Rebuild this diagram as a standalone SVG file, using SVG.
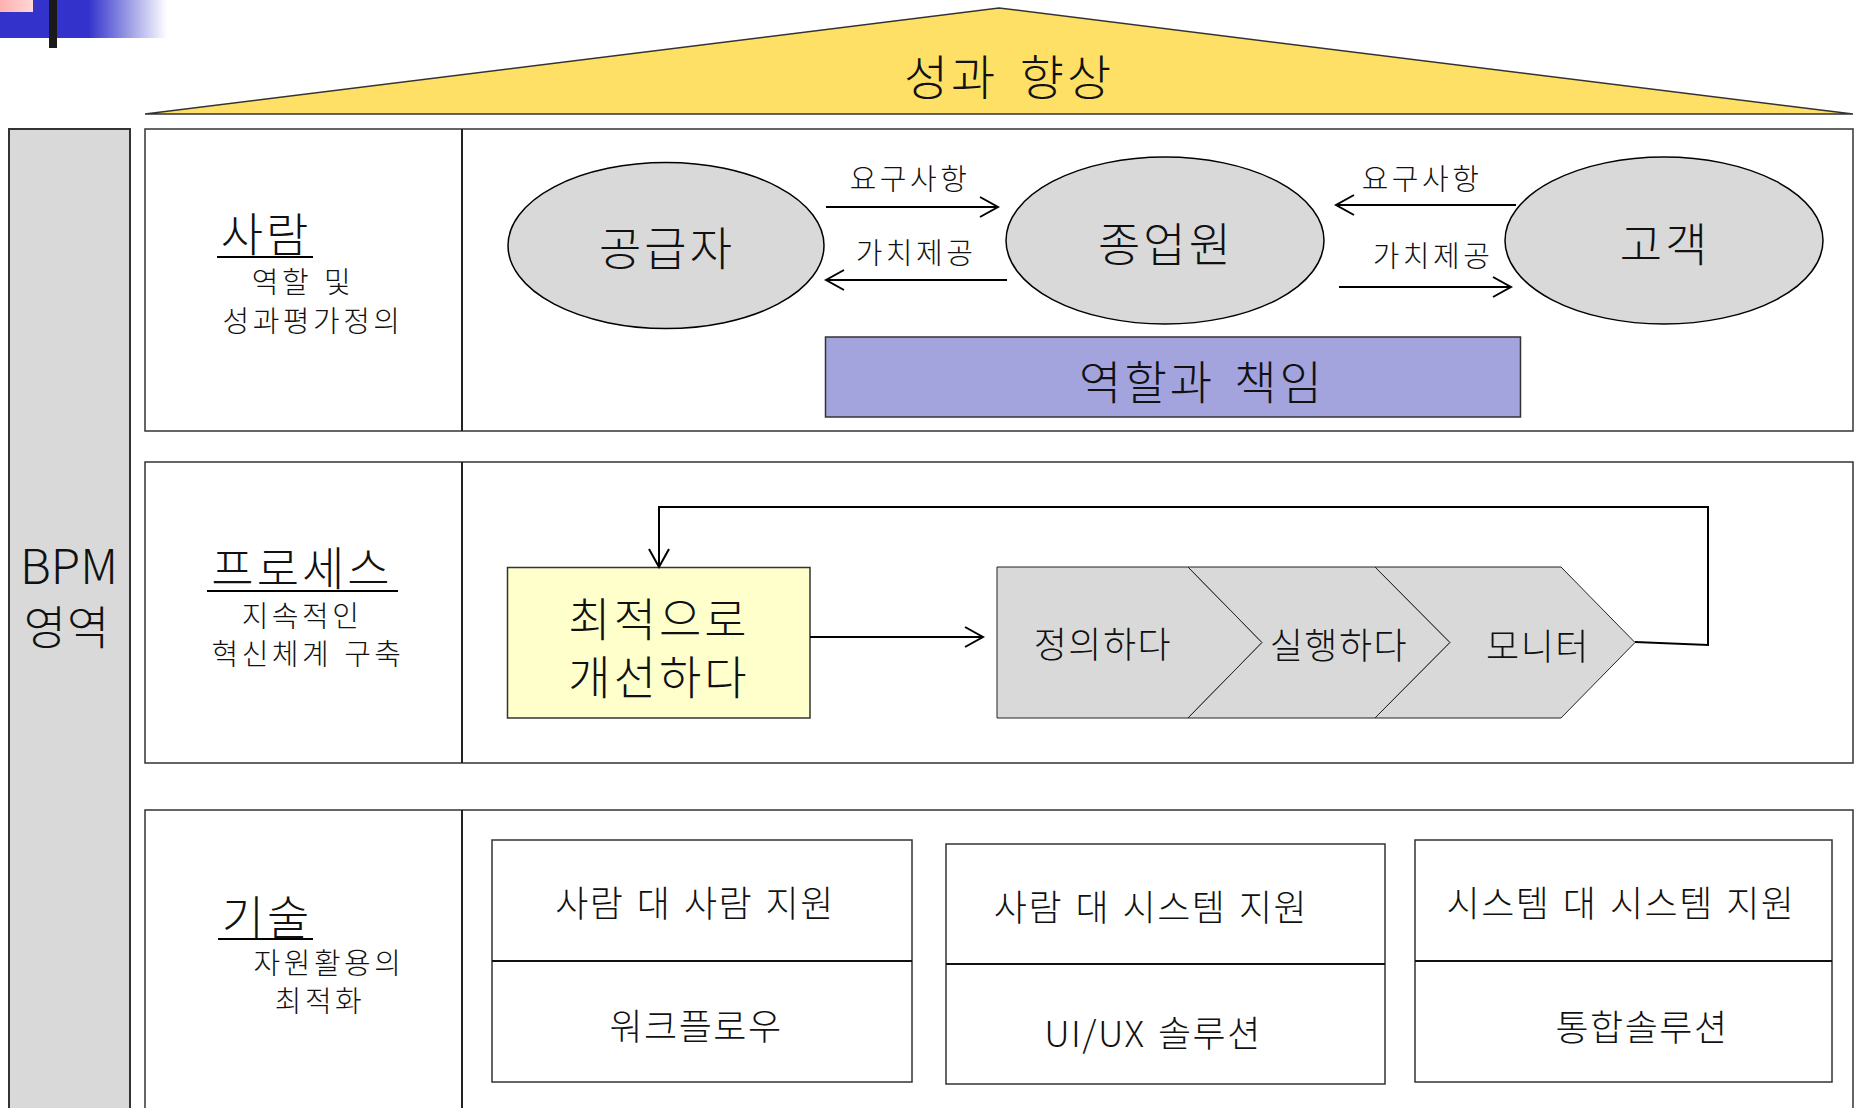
<svg xmlns="http://www.w3.org/2000/svg" width="1860" height="1108" viewBox="0 0 1860 1108">
<defs>
<linearGradient id="blueFade" x1="0" y1="0" x2="1" y2="0">
<stop offset="0" stop-color="#3333CC"/>
<stop offset="0.53" stop-color="#3333CC"/>
<stop offset="1" stop-color="#FFFFFF"/>
</linearGradient>
<linearGradient id="pinkFade" x1="0" y1="0" x2="1" y2="0">
<stop offset="0" stop-color="#FFB0B0"/>
<stop offset="1" stop-color="#FFD6D6"/>
</linearGradient>
<marker id="ah" viewBox="-20 -12 22 24" markerWidth="22" markerHeight="24" refX="0" refY="0" orient="auto" markerUnits="userSpaceOnUse">
<path d="M-18,-10 L0,0 L-18,10" fill="none" stroke="#000" stroke-width="2"/>
</marker>
</defs>
<style>
text{font-family:'Noto Sans CJK KR','Noto Sans',sans-serif;font-weight:300;fill:#111;text-anchor:middle}
.big{font-size:46px;letter-spacing:3px;word-spacing:6px}
.mid{font-size:36px;letter-spacing:1.5px;word-spacing:3px}
.sm{font-size:29px;letter-spacing:3.5px;word-spacing:2px}
.lbl{font-size:29px;letter-spacing:3.5px}
.box{fill:#FFFFFF;stroke:#333;stroke-width:1.5}
.ell{fill:#D9D9D9;stroke:#000;stroke-width:1.5}
.chev{fill:#D9D9D9;stroke:#222;stroke-width:1}
.arr{fill:none;stroke:#000;stroke-width:2;marker-end:url(#ah)}
.ul{stroke:#000;stroke-width:2}
</style>
<rect width="1860" height="1108" fill="#FFFFFF"/>

<g id="corner-decoration">
<rect x="0" y="0" width="167" height="38" fill="url(#blueFade)"/>
<rect x="0" y="0" width="33" height="12" fill="url(#pinkFade)"/>
<rect x="49" y="0" width="8" height="48" fill="#1A1A1A"/>
</g>

<g id="roof">
<polygon points="145,114 999,8 1853,114" fill="#FFE066" stroke="#333" stroke-width="1.5"/>
<text x="1009" y="95" style="font-size:48px;letter-spacing:3px;word-spacing:8px">성과 향상</text>
</g>

<g id="bpm-column">
<rect x="9" y="129" width="121" height="1000" fill="#D9D9D9" stroke="#333" stroke-width="2"/>
<text x="69" y="584" style="font-size:48px">BPM</text>
<text x="67" y="644" style="font-size:46px;letter-spacing:1px">영역</text>
</g>

<g id="row-people">
<rect class="box" x="145" y="129" width="1708" height="302"/>
<line x1="462" y1="129" x2="462" y2="431" stroke="#222" stroke-width="2"/>
<text class="big" x="266" y="251">사람</text>
<line class="ul" x1="217" y1="257" x2="313" y2="257"/>
<text class="sm" x="303" y="293">역할 및</text>
<text class="sm" x="313" y="332">성과평가정의</text>
</g>

<g id="supplier">
<ellipse class="ell" cx="666" cy="245.5" rx="158" ry="83"/>
<text class="big" x="667" y="265">공급자</text>
</g>
<g id="employee">
<ellipse class="ell" cx="1165" cy="240.5" rx="159" ry="83.5"/>
<text class="big" x="1166" y="261">종업원</text>
</g>
<g id="customer">
<ellipse class="ell" cx="1664" cy="240.5" rx="159" ry="83.5"/>
<text class="big" x="1665" y="261">고객</text>
</g>
<g id="roles">
<rect x="825.5" y="337" width="695" height="80" fill="#A3A3DE" stroke="#333" stroke-width="1.5"/>
<text class="big" x="1202" y="399">역할과 책임</text>
</g>

<g id="row-process">
<rect class="box" x="145" y="462" width="1708" height="301"/>
<line x1="462" y1="462" x2="462" y2="763" stroke="#222" stroke-width="2"/>
<text class="big" x="302" y="585">프로세스</text>
<line class="ul" x1="207" y1="591" x2="398" y2="591"/>
<text class="sm" x="302" y="627">지속적인</text>
<text class="sm" x="308" y="665">혁신체계 구축</text>
</g>

<g id="improve">
<rect x="507.5" y="567.5" width="302.5" height="150.5" fill="#FFFFCC" stroke="#333" stroke-width="1.5"/>
<text class="big" x="659" y="636">최적으로</text>
<text class="big" x="659" y="694">개선하다</text>
</g>
<g id="define">
<polygon class="chev" points="997,567 1188,567 1262,642.5 1188,718 997,718"/>
<text class="mid" x="1103" y="658">정의하다</text>
</g>
<g id="execute">
<polygon class="chev" points="1188,567 1375,567 1450,642.5 1375,718 1188,718 1262,642.5"/>
<text class="mid" x="1339" y="659">실행하다</text>
</g>
<g id="monitor">
<polygon class="chev" points="1375,567 1561,567 1635,642.5 1561,718 1375,718 1450,642.5"/>
<text class="mid" x="1538" y="660">모니터</text>
</g>

<g id="row-tech">
<rect class="box" x="145" y="810" width="1708" height="330"/>
<line x1="462" y1="810" x2="462" y2="1108" stroke="#222" stroke-width="2"/>
<text class="big" x="267" y="934">기술</text>
<line class="ul" x1="218" y1="939" x2="313" y2="939"/>
<text class="sm" x="329" y="974">자원활용의</text>
<text class="sm" x="320" y="1012">최적화</text>
</g>

<g id="tech-people">
<rect class="box" x="492" y="840" width="420" height="242"/>
<line x1="492" y1="961" x2="912" y2="961" stroke="#111" stroke-width="2"/>
<text class="mid" x="695" y="917">사람 대 사람 지원</text>
<text class="mid" x="696" y="1040">워크플로우</text>
</g>
<g id="tech-people-system">
<rect class="box" x="946" y="844" width="439" height="240"/>
<line x1="946" y1="964" x2="1385" y2="964" stroke="#111" stroke-width="2"/>
<text class="mid" x="1151" y="921">사람 대 시스템 지원</text>
<text class="mid" x="1153" y="1047">UI/UX 솔루션</text>
</g>
<g id="tech-system">
<rect class="box" x="1415" y="840" width="417" height="242"/>
<line x1="1415" y1="961" x2="1832" y2="961" stroke="#111" stroke-width="2"/>
<text class="mid" x="1621" y="917">시스템 대 시스템 지원</text>
<text class="mid" x="1642" y="1041">통합솔루션</text>
</g>

<g id="connectors">
<line class="arr" x1="826" y1="207" x2="998" y2="207"/>
<text class="lbl" x="910" y="190">요구사항</text>
<line class="arr" x1="1007" y1="280" x2="826" y2="280"/>
<text class="lbl" x="916" y="264">가치제공</text>
<line class="arr" x1="1516" y1="205" x2="1336" y2="205"/>
<text class="lbl" x="1422" y="190">요구사항</text>
<line class="arr" x1="1339" y1="287" x2="1511" y2="287"/>
<text class="lbl" x="1433" y="267">가치제공</text>
<line class="arr" x1="810" y1="637" x2="983" y2="637"/>
<polyline class="arr" points="1635,642 1708,645 1708,507 659,507 659,567"/>
</g>
</svg>
